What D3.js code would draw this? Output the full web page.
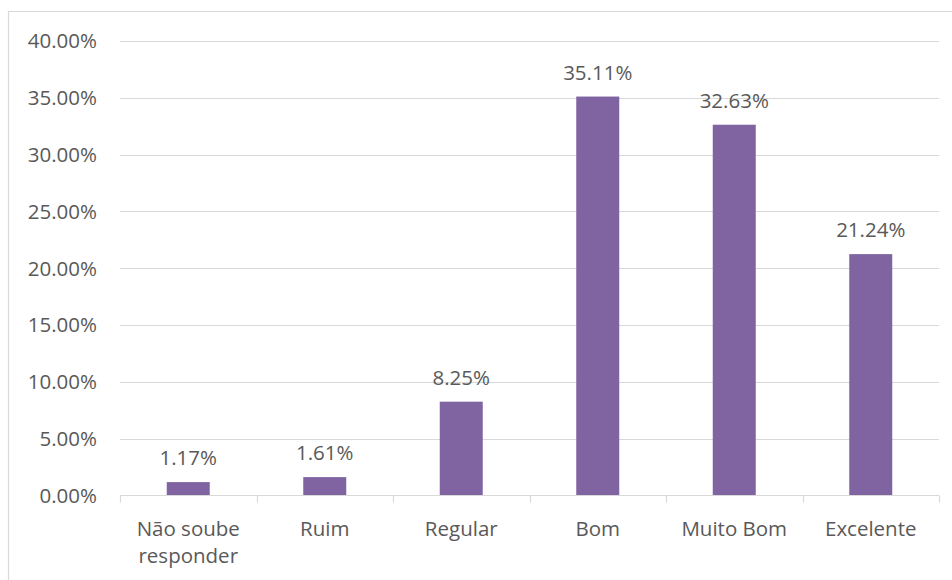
<!DOCTYPE html>
<html><head><meta charset="utf-8">
<script src="https://cdn.jsdelivr.net/npm/d3@7"></script>
<style>body{margin:0;background:#fff}svg{display:block}</style>
</head><body><svg id="c" width="952" height="580"></svg>
<script>
const categories = [["Não soube","responder"],["Ruim"],["Regular"],["Bom"],["Muito Bom"],["Excelente"]];
const values = [1.17, 1.61, 8.25, 35.11, 32.63, 21.24];
const yTicks = [0,5,10,15,20,25,30,35,40];

(function(){
const svg = d3.select("#c");
const font = "'Open Sans', sans-serif";
const col = "#595959";
const pLeft = 120, pRight = 939, pTop = 41, pBottom = 495.4;

svg.append("path").attr("d","M8.5,580V11.5H952").attr("fill","none").attr("stroke","#d9d9d9").attr("stroke-width",1.2);

const x = d3.scaleBand().domain(categories.map((d,i)=>i)).range([pLeft,pRight]).padding(0);
const y = d3.scaleLinear().domain([0,40]).range([pBottom,pTop]);

const g = svg.append("g");
g.selectAll("line.grid").data(yTicks.slice(1)).join("line")
  .attr("x1",pLeft).attr("x2",pRight).attr("y1",d=>Math.round(y(d))+0.5).attr("y2",d=>Math.round(y(d))+0.5)
  .attr("stroke","#d9d9d9").attr("stroke-width",1.2);

g.selectAll("text.yl").data(yTicks).join("text")
  .attr("x",97).attr("y",d=>y(d)).attr("dy","0.36em").attr("text-anchor","end")
  .attr("font-family",font).attr("font-size",20.5).attr("fill",col)
  .text(d=>d.toFixed(2)+"%");

const bw = x.bandwidth()*0.315;
g.selectAll("rect").data(values).join("rect")
  .attr("x",(d,i)=>x(i)+x.bandwidth()/2-bw/2).attr("width",bw)
  .attr("y",d=>y(d)).attr("height",d=>pBottom-y(d))
  .attr("fill","#8064a2");

const ax = Math.round(pBottom)+0.5;
g.append("line").attr("x1",pLeft).attr("x2",pRight).attr("y1",ax).attr("y2",ax).attr("stroke","#d9d9d9").attr("stroke-width",1.2);
const ticks = d3.range(categories.length+1).map(i=>pLeft+i*x.step());
g.selectAll("line.tk").data(ticks).join("line")
  .attr("x1",d=>Math.round(d)+0.5).attr("x2",d=>Math.round(d)+0.5).attr("y1",ax).attr("y2",ax+7)
  .attr("stroke","#d9d9d9").attr("stroke-width",1.2);

g.selectAll("text.vl").data(values).join("text")
  .attr("x",(d,i)=>x(i)+x.bandwidth()/2).attr("y",d=>y(d)-17)
  .attr("text-anchor","middle").attr("font-family",font).attr("font-size",20.5).attr("fill",col)
  .text(d=>d.toFixed(2)+"%");

categories.forEach((lines,i)=>{
  const t = g.append("text").attr("text-anchor","middle").attr("font-family",font).attr("font-size",20.5).attr("fill",col);
  lines.forEach((l,j)=>t.append("tspan").attr("x",x(i)+x.bandwidth()/2).attr("y",536+j*27).text(l));
});
})();
</script></body></html>
